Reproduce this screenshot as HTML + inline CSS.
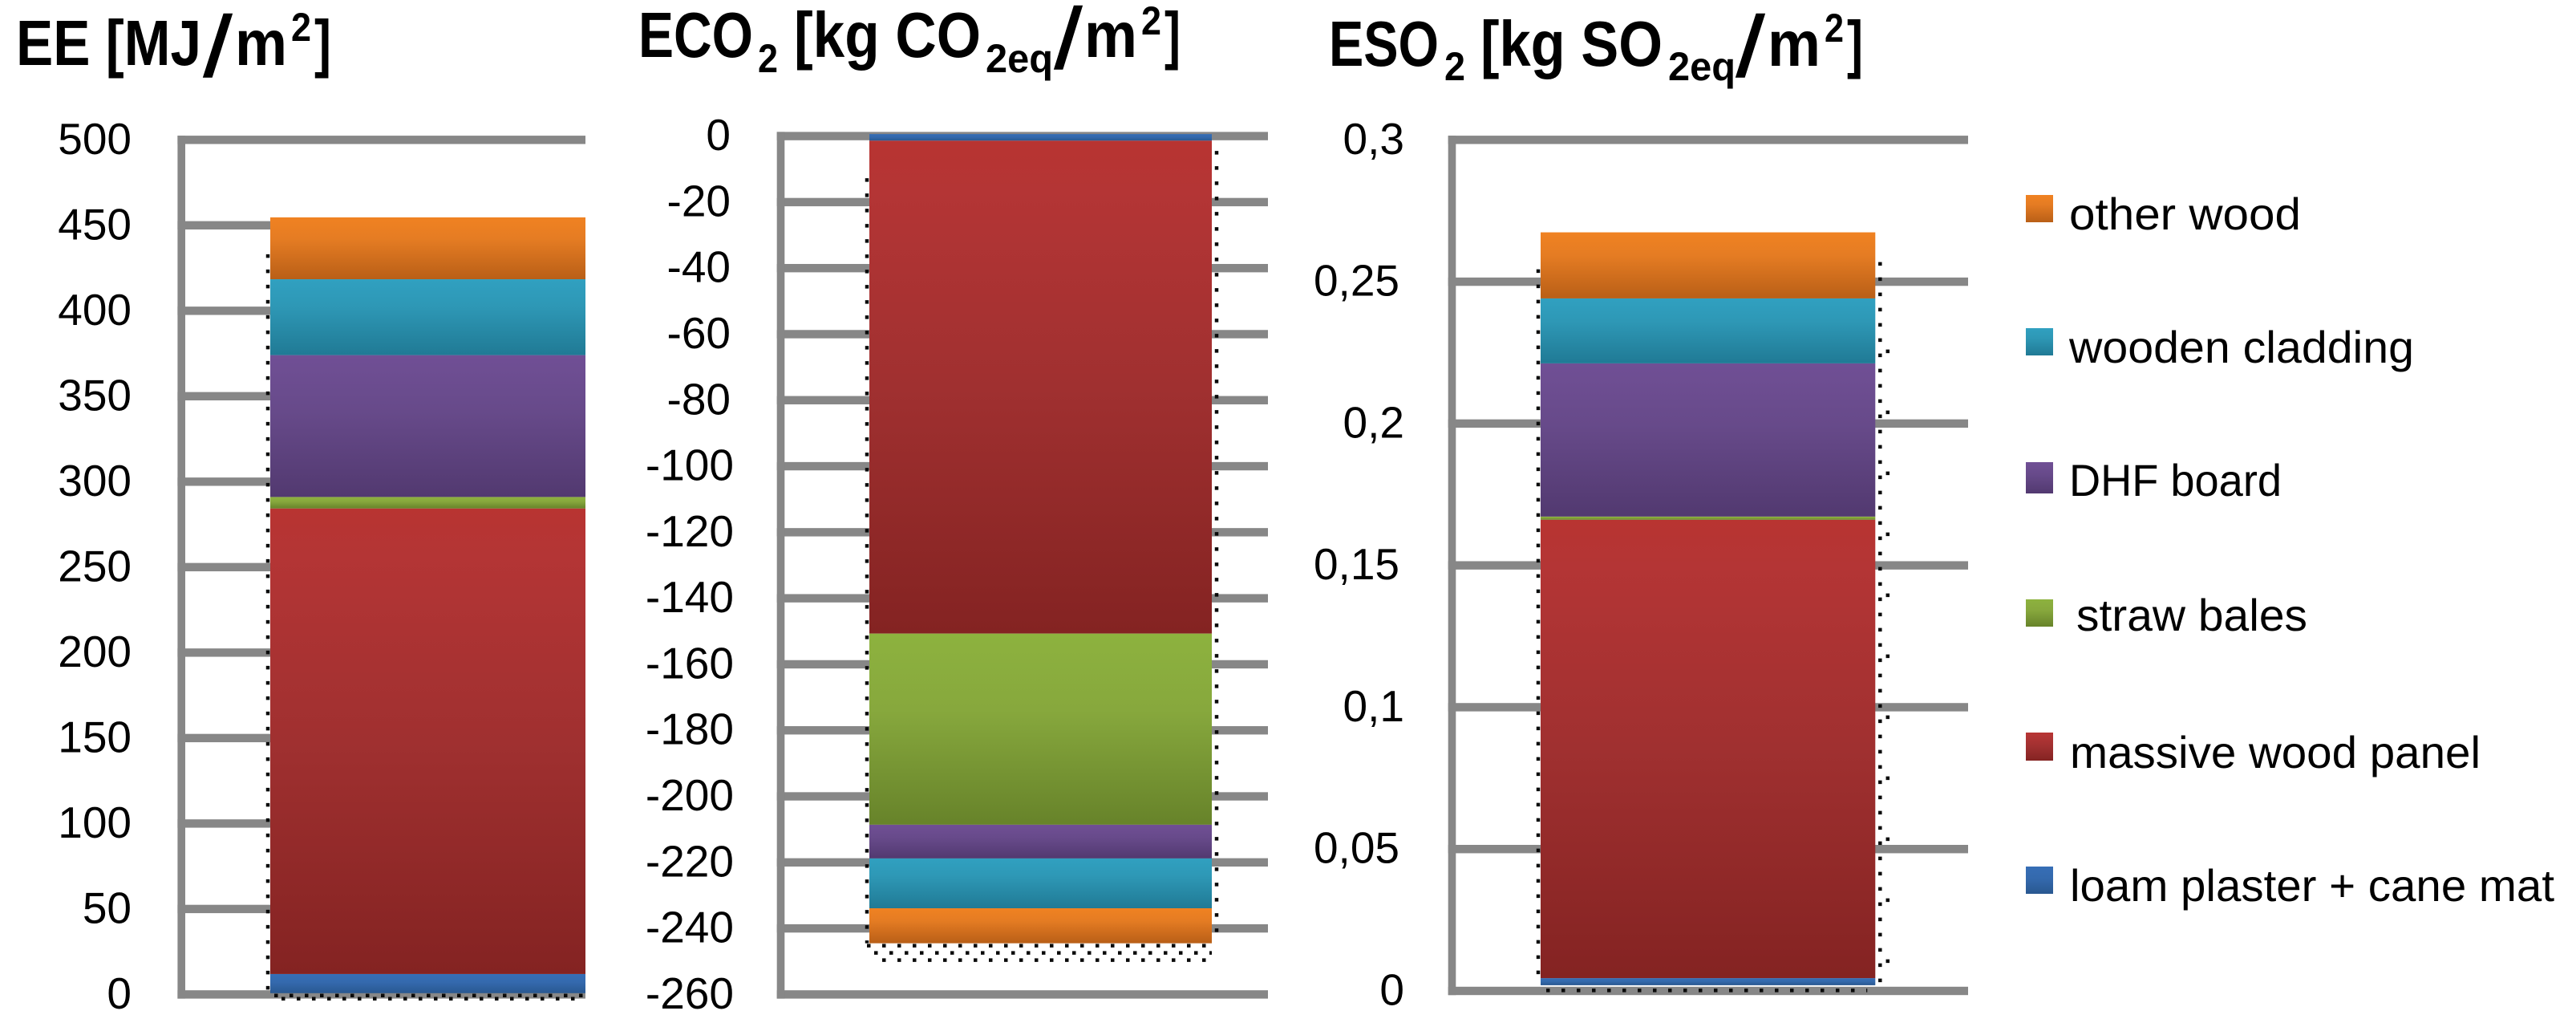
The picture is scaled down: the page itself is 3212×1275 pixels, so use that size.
<!DOCTYPE html>
<html lang="en">
<head>
<meta charset="utf-8">
<title>Embodied energy, CO2 and SO2 by material</title>
<style>
html,body{margin:0;padding:0;background:#fff;}
svg{display:block;}
text{font-family:"Liberation Sans",sans-serif;fill:#000;}
.title{font-weight:bold;font-size:80px;}
.slash{font-size:107px;stroke:#000;stroke-width:1.5px;}
.script{font-weight:bold;font-size:50px;}
.legend-text{font-size:56px;}
.tick{font-size:55px;}
</style>
</head>
<body>
<svg id="chart" xmlns="http://www.w3.org/2000/svg" width="3212" height="1275" viewBox="0 0 3212 1275">
<defs>
<linearGradient id="g-loam" x1="0" y1="0" x2="0" y2="1"><stop offset="0" stop-color="#366eb6"/><stop offset="0.45" stop-color="#3469ad"/><stop offset="1" stop-color="#295890"/></linearGradient>
<linearGradient id="g-panel" x1="0" y1="0" x2="0" y2="1"><stop offset="0" stop-color="#b83431"/><stop offset="0.1" stop-color="#b43535"/><stop offset="0.5" stop-color="#a03030"/><stop offset="1" stop-color="#842322"/></linearGradient>
<linearGradient id="g-straw" x1="0" y1="0" x2="0" y2="1"><stop offset="0" stop-color="#8db23e"/><stop offset="0.4" stop-color="#87a83d"/><stop offset="1" stop-color="#67832a"/></linearGradient>
<linearGradient id="g-dhf" x1="0" y1="0" x2="0" y2="1"><stop offset="0" stop-color="#704f95"/><stop offset="0.4" stop-color="#674a8a"/><stop offset="1" stop-color="#523970"/></linearGradient>
<linearGradient id="g-cladding" x1="0" y1="0" x2="0" y2="1"><stop offset="0" stop-color="#30a0c0"/><stop offset="0.35" stop-color="#2e98b6"/><stop offset="1" stop-color="#207a95"/></linearGradient>
<linearGradient id="g-other" x1="0" y1="0" x2="0" y2="1"><stop offset="0" stop-color="#f08222"/><stop offset="0.35" stop-color="#e57c23"/><stop offset="1" stop-color="#b95f17"/></linearGradient>
</defs>

<g>
<text class="title" x="20" y="81" textLength="231" lengthAdjust="spacingAndGlyphs">EE [MJ</text>
<text class="slash" x="254" y="95" textLength="35" lengthAdjust="spacingAndGlyphs">/</text>
<text class="title" x="293" y="81" textLength="65" lengthAdjust="spacingAndGlyphs">m</text>
<text class="script" x="363" y="51" textLength="25" lengthAdjust="spacingAndGlyphs">2</text>
<text class="title" x="392" y="81" textLength="21" lengthAdjust="spacingAndGlyphs">]</text>
</g>
<g>
<text class="title" x="796" y="71" textLength="143" lengthAdjust="spacingAndGlyphs">ECO</text>
<text class="script" x="945" y="90" textLength="25" lengthAdjust="spacingAndGlyphs">2</text>
<text class="title" x="990" y="71" textLength="233" lengthAdjust="spacingAndGlyphs">[kg CO</text>
<text class="script" x="1229" y="90" textLength="84" lengthAdjust="spacingAndGlyphs">2eq</text>
<text class="slash" x="1315" y="85" textLength="34" lengthAdjust="spacingAndGlyphs">/</text>
<text class="title" x="1352" y="71" textLength="66" lengthAdjust="spacingAndGlyphs">m</text>
<text class="script" x="1423" y="43" textLength="25" lengthAdjust="spacingAndGlyphs">2</text>
<text class="title" x="1452" y="71" textLength="20" lengthAdjust="spacingAndGlyphs">]</text>
</g>
<g>
<text class="title" x="1657" y="82" textLength="137" lengthAdjust="spacingAndGlyphs">ESO</text>
<text class="script" x="1801" y="100" textLength="26" lengthAdjust="spacingAndGlyphs">2</text>
<text class="title" x="1846" y="82" textLength="227" lengthAdjust="spacingAndGlyphs">[kg SO</text>
<text class="script" x="2080" y="100" textLength="84" lengthAdjust="spacingAndGlyphs">2eq</text>
<text class="slash" x="2165" y="95" textLength="35" lengthAdjust="spacingAndGlyphs">/</text>
<text class="title" x="2204" y="82" textLength="66" lengthAdjust="spacingAndGlyphs">m</text>
<text class="script" x="2275" y="52" textLength="24" lengthAdjust="spacingAndGlyphs">2</text>
<text class="title" x="2303" y="82" textLength="20" lengthAdjust="spacingAndGlyphs">]</text>
</g>

<g id="plots"></g>

<g>
<g>
<rect x="2526" y="243" width="34" height="34" fill="url(#g-other)"/>
<text class="legend-text" x="2580" y="286" textLength="289" lengthAdjust="spacingAndGlyphs">other wood</text>
</g>
<g>
<rect x="2526" y="409" width="34" height="34" fill="url(#g-cladding)"/>
<text class="legend-text" x="2580" y="452" textLength="430" lengthAdjust="spacingAndGlyphs">wooden cladding</text>
</g>
<g>
<rect x="2526" y="576" width="34" height="39" fill="url(#g-dhf)"/>
<text class="legend-text" x="2580" y="618" textLength="265" lengthAdjust="spacingAndGlyphs">DHF board</text>
</g>
<g>
<rect x="2526" y="747" width="34" height="34" fill="url(#g-straw)"/>
<text class="legend-text" x="2589" y="786" textLength="288" lengthAdjust="spacingAndGlyphs">straw bales</text>
</g>
<g>
<rect x="2526" y="913" width="34" height="35" fill="url(#g-panel)"/>
<text class="legend-text" x="2581" y="957" textLength="512" lengthAdjust="spacingAndGlyphs">massive wood panel</text>
</g>
<g>
<rect x="2526" y="1080" width="34" height="34" fill="url(#g-loam)"/>
<text class="legend-text" x="2581" y="1123" textLength="604" lengthAdjust="spacingAndGlyphs">loam plaster + cane mat</text>
</g>
</g>
</svg>

<script>
// Series in stacking order, first series nearest the axis zero.
const seriesKeys = ['loam', 'panel', 'straw', 'dhf', 'cladding', 'other'];

// EE [MJ/m2]
const eeTicks = [0, 50, 100, 150, 200, 250, 300, 350, 400, 450, 500];
const eeTickLabels = ['0', '50', '100', '150', '200', '250', '300', '350', '400', '450', '500'];
const eeValues = [11.2, 272.4, 6.7, 83, 44.4, 36.2];
const eeStackStart = 0.75;

// ECO2 [kg CO2eq/m2]
const ecoTicks = [0, -20, -40, -60, -80, -100, -120, -140, -160, -180, -200, -220, -240, -260];
const ecoTickLabels = ['0', '-20', '-40', '-60', '-80', '-100', '-120', '-140', '-160', '-180', '-200', '-220', '-240', '-260'];
const ecoValues = [-2, -149.3, -57.9, -10.2, -15.1, -10.6];
const ecoStackStart = 0.6;

// ESO2 [kg SO2eq/m2]
const esoTicks = [0, 0.05, 0.1, 0.15, 0.2, 0.25, 0.3];
const esoTickLabels = ['0', '0,05', '0,1', '0,15', '0,2', '0,25', '0,3'];
const esoValues = [0.0025, 0.1616, 0.0011, 0.054, 0.0229, 0.0233];
const esoStackStart = 0.002;

const SVG_NS = 'http://www.w3.org/2000/svg';
const plots = document.getElementById('plots');

function scale(d0, d1, r0, r1) {
  return function (v) { return r0 + (v - d0) / (d1 - d0) * (r1 - r0); };
}

function make(tag, parent, attrs) {
  const el = document.createElementNS(SVG_NS, tag);
  Object.keys(attrs).forEach(function (k) { el.setAttribute(k, attrs[k]); });
  parent.appendChild(el);
  return el;
}

function dots(parent, name, x1, y1, x2, y2, gap) {
  const line = make('line', parent, {
    x1: x1, y1: y1, x2: x2, y2: y2,
    stroke: '#0a0a0a', 'stroke-width': 4.5, 'stroke-dasharray': '4.5 ' + gap
  });
  
  
}

function drawPlot(cfg) {
  const y = scale(cfg.d0, cfg.d1, cfg.p0, cfg.p1);
  const g = make('g', plots, {});
  
  

  const xAxisEnd = cfg.gridRight;
  const gridG = make('g', g, {});
  
  
  cfg.ticks.forEach(function (t) {
    const line = make('rect', gridG, {
      x: cfg.axisX, y: y(t) - 5.2, width: xAxisEnd - cfg.axisX, height: 10.4, fill: '#878787'
    });
    
    
  });
  const axisTop = Math.min(y(cfg.d0), y(cfg.d1));
  const axisBottom = Math.max(y(cfg.d0), y(cfg.d1));
  const axis = make('rect', g, {
    x: cfg.axisX, y: axisTop - 5.2, width: 9.6, height: axisBottom - axisTop + 10.4, fill: '#878787'
  });
  
  

  const labelG = make('g', g, {});
  
  
  cfg.ticks.forEach(function (t, i) {
    const txt = cfg.tickLabels[i];
    const label = make('text', labelG, {
      class: 'tick', x: cfg.labelRight + (txt.length >= cfg.longLen ? cfg.longShift : 0),
      y: y(t) + 17.5, 'text-anchor': 'end'
    });
    
    
    label.textContent = txt;
  });

  // stacked segments
  let acc = cfg.start;
  const edges = [acc];
  cfg.values.forEach(function (v) { acc += v; edges.push(acc); });
  const farEdge = edges[edges.length - 1];
  const barTop = Math.min(y(edges[0]), y(farEdge));
  const barBottom = Math.max(y(edges[0]), y(farEdge));

  // dotted outline behind and around the bar
  const dotG = make('g', g, {});
  
  
  dots(dotG, cfg.name + '-dotted-left', cfg.barLeft - 3, barTop + cfg.leftDotsFrom, cfg.barLeft - 3, barBottom, 14.5);
  if (cfg.rightDots) {
    dots(dotG, cfg.name + '-dotted-right', cfg.barRight + 6, barTop + cfg.rightDotsFrom, cfg.barRight + 6, barBottom, 14.5);
  }
  if (cfg.sparseDots) {
    dots(dotG, cfg.name + '-dotted-right-outer', cfg.barRight + 15.5, barTop + 146, cfg.barRight + 15.5, barBottom, 71.5);
  }
  cfg.bottomRows.forEach(function (r) {
    dots(dotG, cfg.name + '-dotted-bottom', cfg.barLeft + r.inset, barBottom + r.dy, cfg.barRight + r.over, barBottom + r.dy, 14.5);
  });

  cfg.values.forEach(function (v, i) {
    const a = y(edges[i]);
    const b = y(edges[i + 1]);
    const seg = make('rect', g, {
      x: cfg.barLeft, y: Math.min(a, b), width: cfg.barRight - cfg.barLeft,
      height: Math.abs(b - a), fill: 'url(#g-' + seriesKeys[i] + ')'
    });
    
    
  });
}

drawPlot({
  name: 'ee', ticks: eeTicks, tickLabels: eeTickLabels, values: eeValues, start: eeStackStart,
  d0: 0, d1: 500, p0: 1239.4, p1: 174.3,
  axisX: 221.4, gridRight: 730, barLeft: 337, barRight: 730,
  labelRight: 164, longLen: 9, longShift: 0,
  leftDotsFrom: 46, rightDots: false, rightDotsFrom: 0, sparseDots: false,
  bottomRows: [{ dy: 3, inset: 5, over: 0 }, { dy: 7, inset: 14, over: 0 }]
});

drawPlot({
  name: 'eco2', ticks: ecoTicks, tickLabels: ecoTickLabels, values: ecoValues, start: ecoStackStart,
  d0: 0, d1: -260, p0: 169.6, p1: 1239.4,
  axisX: 968.7, gridRight: 1581, barLeft: 1084, barRight: 1511,
  labelRight: 911, longLen: 4, longShift: 4,
  leftDotsFrom: 55, rightDots: true, rightDotsFrom: 21, sparseDots: false,
  bottomRows: [{ dy: 3, inset: -3, over: 6 }, { dy: 12, inset: 6, over: 0 }, { dy: 21, inset: 16, over: 6 }]
});

drawPlot({
  name: 'eso2', ticks: esoTicks, tickLabels: esoTickLabels, values: esoValues, start: esoStackStart,
  d0: 0, d1: 0.3, p0: 1235, p1: 174.3,
  axisX: 1805.7, gridRight: 2454, barLeft: 1921, barRight: 2338.3,
  labelRight: 1751, longLen: 4, longShift: -6,
  leftDotsFrom: 46, rightDots: true, rightDotsFrom: 37, sparseDots: true,
  bottomRows: [{ dy: 6.5, inset: 7, over: -10 }]
});
</script>
</body>
</html>
